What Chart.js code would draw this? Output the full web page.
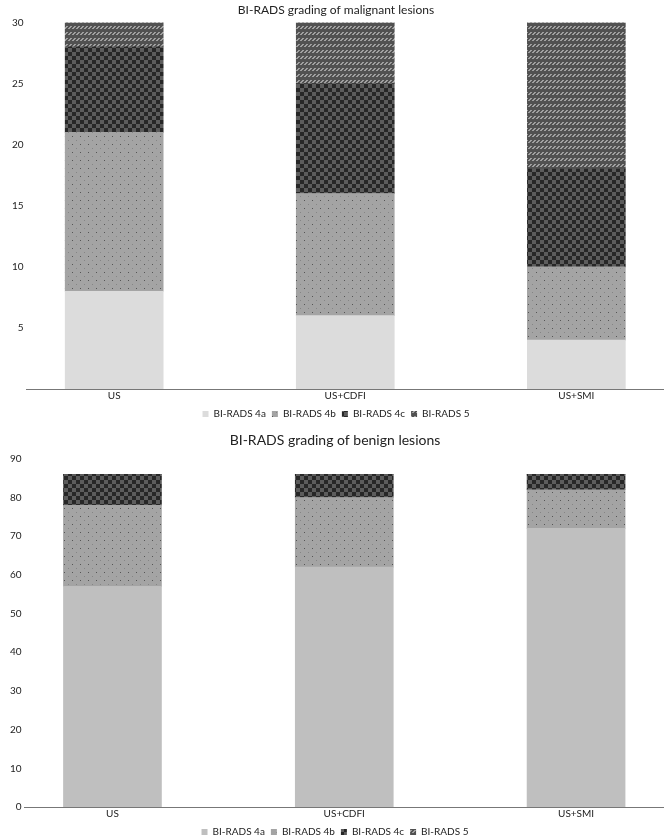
<!DOCTYPE html>
<html>
<head>
<meta charset="utf-8">
<script src="https://cdn.jsdelivr.net/npm/chart.js@4"></script>
<style>
  body { margin: 0; background: #fff; }
  .box { position: absolute; left: 0; width: 669px; }
  #top { top: 0; height: 420px; }
  #bottom { top: 420px; height: 418px; }
</style>
</head>
<body>
<div class="box" id="top"><canvas id="malignant"></canvas></div>
<div class="box" id="bottom"><canvas id="benign"></canvas></div>
<script>
const categories = ['US', 'US+CDFI', 'US+SMI'];
const seriesNames = ['BI-RADS 4a', 'BI-RADS 4b', 'BI-RADS 4c', 'BI-RADS 5'];

const malignant4a = [8, 6, 4];
const malignant4b = [13, 10, 6];
const malignant4c = [7, 9, 8];
const malignant5 = [2, 5, 12];
const malignantTicks = [5, 10, 15, 20, 25, 30];

const benign4a = [57, 62, 72];
const benign4b = [21, 18, 10];
const benign4c = [8, 6, 4];
const benign5 = [0, 0, 0];
const benignTicks = [0, 10, 20, 30, 40, 50, 60, 70, 80, 90];

Chart.defaults.font.family = 'Lato, "Liberation Sans", sans-serif';
Chart.defaults.color = '#222';

function makePattern(w, h, draw) {
  const c = document.createElement('canvas');
  c.width = w;
  c.height = h;
  draw(c.getContext('2d'));
  return c.getContext('2d').createPattern(c, 'repeat');
}

const dotted = makePattern(8, 8, (g) => {
  g.fillStyle = '#a4a4a4';
  g.fillRect(0, 0, 8, 8);
  g.fillStyle = '#555';
  g.fillRect(0, 0, 1, 1);
  g.fillStyle = '#858585';
  g.fillRect(4, 4, 1, 1);
});

const checker = makePattern(8, 8, (g) => {
  g.fillStyle = '#5c5c5c';
  g.fillRect(0, 0, 8, 8);
  g.fillStyle = '#272727';
  g.fillRect(0, 0, 4, 4);
  g.fillRect(4, 4, 4, 4);
});

const hatched = makePattern(8, 6, (g) => {
  g.fillStyle = '#515151';
  g.fillRect(0, 0, 8, 6);
  for (let y = 2; y < 5; y++) {
    for (let x = 0; x < 8; x++) {
      if ((x + y) % 4 < 2) {
        g.fillStyle = '#a0a0a0';
        g.fillRect(x, y, 1, 1);
      }
    }
  }
});

function toPoints(values) {
  return values.map((v, i) => ({ x: i, y: v }));
}

function buildChart(id, titleText, titleSize, titlePad, padLeft, fills, series, yMax, yTicks) {
  new Chart(document.getElementById(id), {
    type: 'bar',
    data: {
      datasets: seriesNames.map((name, i) => ({
        label: name,
        data: toPoints(series[i]),
        backgroundColor: fills[i],
        borderWidth: 0,
        barThickness: 98
      }))
    },
    options: {
      responsive: true,
      maintainAspectRatio: false,
      animation: false,
      layout: { padding: { left: padLeft, right: 6, bottom: 0 } },
      plugins: {
        title: {
          display: true,
          text: titleText,
          font: { size: titleSize, weight: 'normal' },
          color: '#222',
          padding: titlePad
        },
        legend: {
          position: 'bottom',
          maxHeight: 17,
          labels: {
            boxWidth: 6,
            boxHeight: 6,
            padding: 6,
            font: { size: 10 },
            color: '#222'
          }
        },
        tooltip: { enabled: false }
      },
      scales: {
        x: {
          type: 'linear',
          stacked: true,
          offset: false,
          min: -0.379,
          max: 2.375,
          grid: { display: false, drawTicks: false, offset: false },
          border: { display: true, color: '#777', width: 1 },
          afterBuildTicks: (scale) => {
            scale.ticks = categories.map((c, i) => ({ value: i }));
          },
          ticks: {
            autoSkip: false,
            maxRotation: 0,
            padding: 1,
            font: { size: 10 },
            color: '#222',
            callback: (v) => categories[v]
          }
        },
        y: {
          stacked: true,
          min: 0,
          max: yMax,
          grid: { display: false, drawTicks: false },
          border: { display: false },
          afterBuildTicks: (scale) => {
            scale.ticks = yTicks.map((v) => ({ value: v }));
          },
          ticks: {
            padding: 3,
            font: { size: 10 },
            color: '#222'
          }
        }
      }
    }
  });
}

buildChart('malignant', 'BI-RADS grading of malignant lesions', 12, { top: 3, bottom: 5 }, 9,
  ['#dcdcdc', dotted, checker, hatched],
  [malignant4a, malignant4b, malignant4c, malignant5], 30, malignantTicks);

buildChart('benign', 'BI-RADS grading of benign lesions', 14, { top: 12, bottom: 10 }, 7,
  ['#bfbfbf', dotted, checker, hatched],
  [benign4a, benign4b, benign4c, benign5], 90, benignTicks);
</script>
</body>
</html>
